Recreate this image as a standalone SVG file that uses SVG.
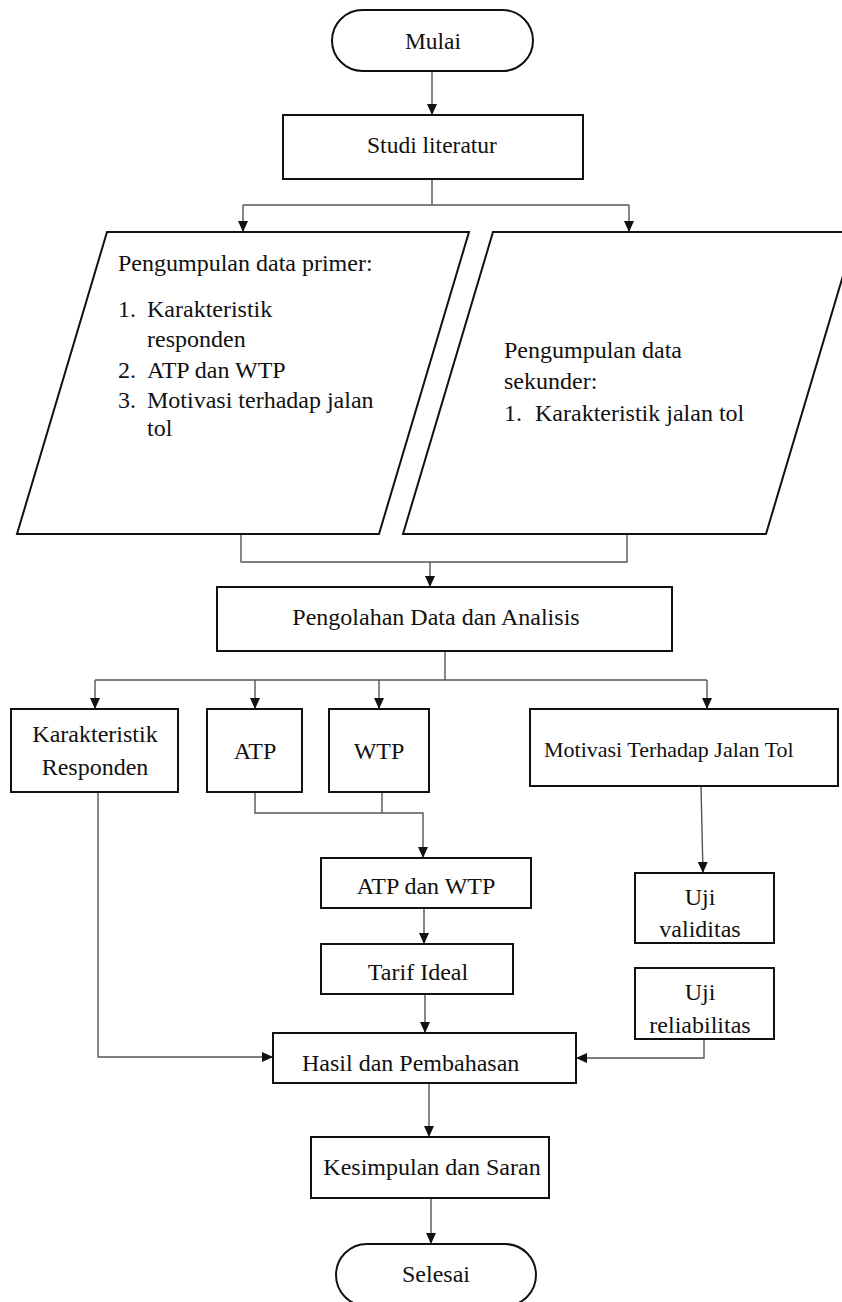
<svg xmlns="http://www.w3.org/2000/svg" width="842" height="1302" viewBox="0 0 842 1302">
<style>
  .node { fill: #ffffff; stroke: #111111; stroke-width: 2; }
  .conn { fill: none; stroke: #555555; stroke-width: 1.4; }
  .t { font-family: 'Liberation Serif', 'Tinos', 'DejaVu Serif', serif; font-size: 24px; fill: #111111; }
  .c { text-anchor: middle; }
</style>
<defs>
  <marker id="arr" markerUnits="userSpaceOnUse" markerWidth="12" markerHeight="12" refX="11" refY="5" orient="auto">
    <path d="M0,0 L11,5 L0,10 z" fill="#111111"/>
  </marker>
</defs>
<rect width="842" height="1302" fill="#ffffff"/>

<g id="connectors">
  <path class="conn" d="M432,71 V115" marker-end="url(#arr)"/>
  <path class="conn" d="M432,179 V205 M243,205 H629"/>
  <path class="conn" d="M243,205 V232" marker-end="url(#arr)"/>
  <path class="conn" d="M629,205 V232" marker-end="url(#arr)"/>
  <path class="conn" d="M241,534 V562 H627 V534"/>
  <path class="conn" d="M430,562 V587" marker-end="url(#arr)"/>
  <path class="conn" d="M445,651 V680 M95,680 H707"/>
  <path class="conn" d="M95,680 V709" marker-end="url(#arr)"/>
  <path class="conn" d="M255,680 V709" marker-end="url(#arr)"/>
  <path class="conn" d="M379,680 V709" marker-end="url(#arr)"/>
  <path class="conn" d="M707,680 V709" marker-end="url(#arr)"/>
  <path class="conn" d="M382,792 V813"/>
  <path class="conn" d="M255,792 V813 H423 V858" marker-end="url(#arr)"/>
  <path class="conn" d="M424,908 V944" marker-end="url(#arr)"/>
  <path class="conn" d="M425,994 V1033" marker-end="url(#arr)"/>
  <path class="conn" d="M98,792 V1057 H273" marker-end="url(#arr)"/>
  <path class="conn" d="M701,786 L703,873" marker-end="url(#arr)"/>
  <path class="conn" d="M704,1039 V1058 H576" marker-end="url(#arr)"/>
  <path class="conn" d="M429,1083 V1137" marker-end="url(#arr)"/>
  <path class="conn" d="M431,1198 V1244" marker-end="url(#arr)"/>
</g>

<g id="mulai">
  <rect class="node" x="332" y="10" width="201" height="61" rx="30.5" ry="30.5"/>
  <text class="t c" x="433" y="49" style="font-size:23.5px">Mulai</text>
</g>

<g id="studi-literatur">
  <rect class="node" x="283" y="115" width="300" height="64"/>
  <text class="t c" x="432" y="153" style="font-size:23.5px">Studi literatur</text>
</g>

<g id="data-primer">
  <polygon class="node" points="107,232 469,232 379,534 17,534"/>
  <text class="t" x="118" y="271">Pengumpulan data primer:</text>
  <text class="t" x="118" y="317">1.</text>
  <text class="t" x="147" y="317">Karakteristik</text>
  <text class="t" x="147" y="347">responden</text>
  <text class="t" x="118" y="378">2.</text>
  <text class="t" x="147" y="378">ATP dan WTP</text>
  <text class="t" x="118" y="408">3.</text>
  <text class="t" x="147" y="408">Motivasi terhadap jalan</text>
  <text class="t" x="147" y="436">tol</text>
</g>

<g id="data-sekunder">
  <polygon class="node" points="493,232 856,232 766,534 403,534"/>
  <text class="t" x="504" y="358">Pengumpulan data</text>
  <text class="t" x="504" y="389">sekunder:</text>
  <text class="t" x="504" y="421">1.</text>
  <text class="t" x="535" y="421">Karakteristik jalan tol</text>
</g>

<g id="pengolahan">
  <rect class="node" x="217" y="587" width="455" height="64"/>
  <text class="t c" x="436" y="625">Pengolahan Data dan Analisis</text>
</g>

<g id="karakteristik-responden">
  <rect class="node" x="11" y="709" width="167" height="83"/>
  <text class="t c" x="95" y="742">Karakteristik</text>
  <text class="t c" x="95" y="775">Responden</text>
</g>

<g id="atp">
  <rect class="node" x="207" y="709" width="95" height="83"/>
  <text class="t c" x="255" y="759">ATP</text>
</g>

<g id="wtp">
  <rect class="node" x="329" y="709" width="100" height="83"/>
  <text class="t c" x="379" y="759">WTP</text>
</g>

<g id="motivasi">
  <rect class="node" x="530" y="709" width="308" height="77"/>
  <text class="t" x="544" y="757" style="font-size:22px">Motivasi Terhadap Jalan Tol</text>
</g>

<g id="atp-dan-wtp">
  <rect class="node" x="321" y="858" width="210" height="50"/>
  <text class="t c" x="426" y="894">ATP dan WTP</text>
</g>

<g id="tarif-ideal">
  <rect class="node" x="321" y="944" width="192" height="50"/>
  <text class="t c" x="418" y="980">Tarif Ideal</text>
</g>

<g id="uji-validitas">
  <rect class="node" x="635" y="873" width="139" height="70"/>
  <text class="t c" x="700" y="905">Uji</text>
  <text class="t c" x="700" y="937">validitas</text>
</g>

<g id="uji-reliabilitas">
  <rect class="node" x="635" y="968" width="139" height="71"/>
  <text class="t c" x="700" y="1000">Uji</text>
  <text class="t c" x="700" y="1033">reliabilitas</text>
</g>

<g id="hasil">
  <rect class="node" x="273" y="1033" width="303" height="50"/>
  <text class="t" x="302" y="1071">Hasil dan Pembahasan</text>
</g>

<g id="kesimpulan">
  <rect class="node" x="311" y="1137" width="238" height="61"/>
  <text class="t c" x="432" y="1175">Kesimpulan dan Saran</text>
</g>

<g id="selesai">
  <rect class="node" x="336" y="1244" width="200" height="62" rx="31" ry="31"/>
  <text class="t c" x="436" y="1282">Selesai</text>
</g>
</svg>
